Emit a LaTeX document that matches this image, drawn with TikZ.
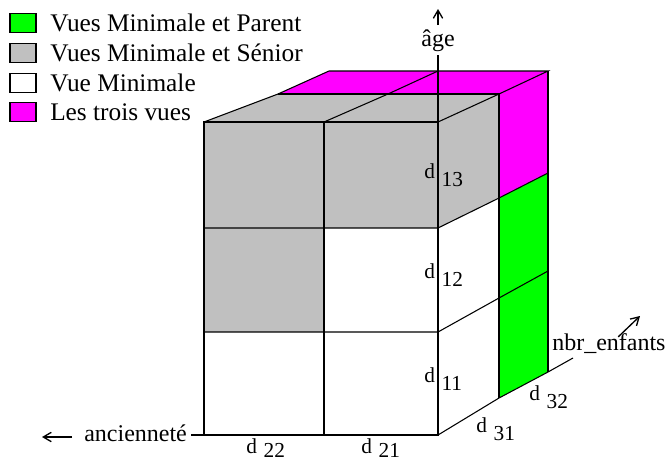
\documentclass[tikz,border=0pt]{standalone}
\usepackage{fontspec}
\setmainfont{Liberation Serif}
\usetikzlibrary{arrows.meta}
\definecolor{vuegreen}{RGB}{0, 255, 0}
\definecolor{vuegray}{RGB}{192, 192, 192}
\definecolor{vuepink}{RGB}{255, 0, 255}
\tikzset{
  cell/.style           = {draw=black, line width=0.8pt},
  legbox/.style         = {draw=black, line width=1.2pt, minimum width=19.5pt, minimum height=14.25pt, inner sep=0pt},
  legtext/.style        = {anchor=base west, inner sep=0pt, font=\fontsize{19}{21}\selectfont},
  axlabel/.style        = {inner sep=3pt, font=\fontsize{18}{20}\selectfont},
  dlabel/.style         = {anchor=base west, inner sep=0pt, font=\fontsize{16}{18}\selectfont},
  axx/.style            = {-{Straight Barb[length=6pt, width=7pt]}, line width=1pt},
}
\newcommand{\dsub}[2][6pt]{d\hspace{5pt}\raisebox{-#1}{#2}}

\begin{document}
\begin{tikzpicture}[x=0.75pt, y=-0.75pt]
  \useasboundingbox (0,0) rectangle (667,461);

  % 图例
  \node[legbox, fill=vuegreen] (lg1) at (23,23) {};
  \node[legtext] (lt1) at (50,31) {Vues Minimale et Parent};
  \node[legbox, fill=vuegray] (lg2) at (23,53) {};
  \node[legtext] (lt2) at (50,61) {Vues Minimale et Sénior};
  \node[legbox, fill=white] (lg3) at (23,83) {};
  \node[legtext] (lt3) at (50,91) {Vue Minimale};
  \node[legbox, fill=vuepink] (lg4) at (23,112) {};
  \node[legtext] (lt4) at (50,120) {Les trois vues};

  % 正面
  \coordinate (a0) at (204,122); \coordinate (b0) at (324,122); \coordinate (c0) at (438,122);
  \coordinate (a1) at (204,228); \coordinate (b1) at (324,228); \coordinate (c1) at (438,228);
  \coordinate (a2) at (204,332); \coordinate (b2) at (324,332); \coordinate (c2) at (438,332);
  \coordinate (a3) at (204,435); \coordinate (b3) at (324,435); \coordinate (c3) at (438,435);
  % 侧面与顶面
  \coordinate (p0) at (499,94);  \coordinate (q0) at (548,71);
  \coordinate (p1) at (499,198); \coordinate (q1) at (548,173);
  \coordinate (p2) at (499,298); \coordinate (q2) at (548,271);
  \coordinate (p3) at (499,398); \coordinate (q3) at (548,372);
  \coordinate (ta1) at (278,94); \coordinate (tb1) at (388,94);
  \coordinate (ta2) at (329,71); \coordinate (tb2) at (438,71);

  % 填色
  \fill[vuegray] (a0) -- (c0) -- (p0) -- (ta1) -- cycle;
  \fill[vuepink] (ta1) -- (p0) -- (q0) -- (ta2) -- cycle;
  \fill[vuegray] (a0) rectangle (c1);
  \fill[vuegray] (a1) rectangle (b2);
  \fill[vuegray] (c0) -- (p0) -- (p1) -- (c1) -- cycle;
  \fill[vuepink] (p0) -- (q0) -- (q1) -- (p1) -- cycle;
  \fill[vuegreen] (p1) -- (q1) -- (q3) -- (p3) -- cycle;

  % 网格线
  \draw[cell] (a0) rectangle (c3);
  \draw[cell] (b0) -- (b3);
  \draw[cell] (a1) -- (c1) -- (p1) -- (q1);
  \draw[cell] (a2) -- (c2) -- (p2) -- (q2);
  \draw[cell] (c3) -- (p3) -- (q3);
  \draw[cell] (a0) -- (ta1) -- (ta2) -- (q0) -- (p0) -- (c0);
  \draw[cell] (ta1) -- (p0) -- (p3);
  \draw[cell] (q0) -- (q3);
  \draw[cell] (b0) -- (tb1) -- (tb2);

  % 坐标轴
  \node[axlabel, anchor=base] (age) at (438,46) {âge};
  \coordinate (agetip) at (438,9);
  \draw[cell] (c3) -- (age.south);
  \draw[axx] (age.north) -- (agetip);

  \node[axlabel, anchor=base west] (anc) at (80,441) {ancienneté};
  \coordinate (anctip) at (42,437);
  \draw[cell] (c3) -- (c3 -| anc.east);
  \draw[axx, shorten <=6pt] (anc.west |- anctip) -- (anctip);

  \node[axlabel, anchor=base west, inner sep=0pt] (nbr) at (552,350) {nbr\_enfants};
  \coordinate (nbrend) at (573,358);
  \coordinate (nbrtip) at (640,316);
  \draw[cell] (q3) -- (nbrend);
  \draw[axx] ([xshift=7pt, yshift=-3pt]nbr.north) -- (nbrtip);

  % 维度成员
  \node[dlabel] (d13) at (424,178) {\dsub{13}};
  \node[dlabel] (d12) at (424,278) {\dsub{12}};
  \node[dlabel] (d11) at (424,382) {\dsub{11}};
  \node[dlabel] (d22) at (246,453) {\dsub[3pt]{22}};
  \node[dlabel] (d21) at (361,453) {\dsub[3pt]{21}};
  \node[dlabel] (d31) at (476,432) {\dsub{31}};
  \node[dlabel] (d32) at (529,400) {\dsub{32}};

\end{tikzpicture}
\end{document}
